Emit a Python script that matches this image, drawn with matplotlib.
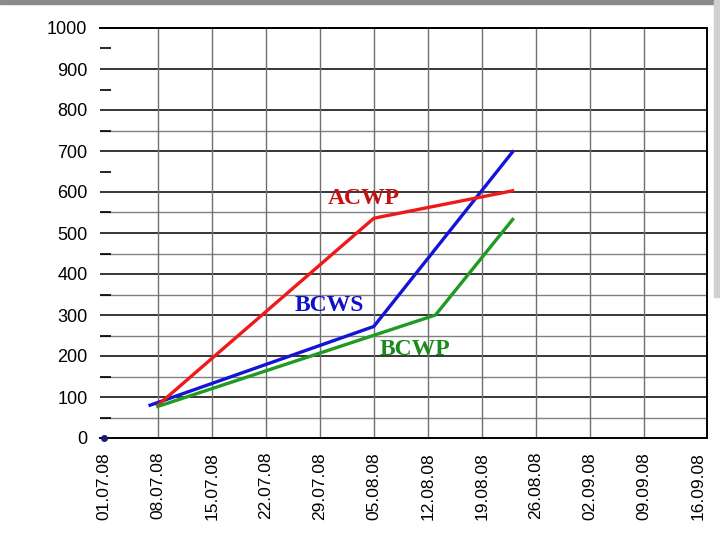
import matplotlib
matplotlib.use("Agg")
import matplotlib.pyplot as plt
from matplotlib.patches import Rectangle
import numpy as np

# Data (x = days since 01.07.08)
tick_labels = ["01.07.08", "08.07.08", "15.07.08", "22.07.08", "29.07.08", "05.08.08",
               "12.08.08", "19.08.08", "26.08.08", "02.09.08", "09.09.08", "16.09.08"]
tick_days = [0, 7, 14, 21, 28, 35, 42, 49, 56, 63, 70, 77]

bcws_days = [6, 35, 53]
bcws_vals = [80, 272, 698]

acwp_days = [7, 35, 53]
acwp_vals = [80, 536, 603]

bcwp_days = [7, 43, 53]
bcwp_vals = [77, 300, 533]

start_day = [0]
start_val = [0]

fig = plt.figure(figsize=(7.2, 5.4), dpi=100)
ax = fig.add_axes([100/720, 1-438/540, 607/720, 410/540])

ax.set_xlim(-0.5, 78.2)
ax.set_ylim(0, 1000)

# grid
for v in range(100, 1001, 100):
    ax.axhline(v, color="black", lw=1.1, zorder=1)
for v in [50, 150, 250, 350, 450, 550, 750]:
    ax.axhline(v, color="#808080", lw=1.0, zorder=1)
for d in tick_days[1:-1]:
    ax.axvline(d, color="#707070", lw=1.0, zorder=1)

ax.plot(bcws_days, bcws_vals, color="#1414d8", lw=2.4, zorder=3)
ax.plot(acwp_days, acwp_vals, color="#ee1a1a", lw=2.4, zorder=3)
ax.plot(bcwp_days, bcwp_vals, color="#1f9a22", lw=2.4, zorder=3)
ax.plot(start_day, start_val, "o", color="#1a1a70", ms=4, zorder=4, clip_on=False)

lbl = dict(fontsize=17, fontweight="bold", family="Liberation Serif",
           ha="center", va="center", zorder=5)
ax.text(33.7, 585, "ACWP", color="#c41010", **lbl)
ax.text(29.2, 322, "BCWS", color="#1010c8", **lbl)
ax.text(40.3, 215, "BCWP", color="#1a8a1a", **lbl)

# ticks
ax.set_yticks(range(0, 1001, 100))
ax.set_yticklabels([str(v) for v in range(0, 1001, 100)], family="Liberation Sans", fontsize=13)
ax.set_yticks(range(50, 1000, 100), minor=True)
ax.tick_params(axis="y", which="major", length=0, pad=9)
ax.tick_params(axis="y", which="minor", direction="in", length=8, width=1.2, color="black")

ax.set_xticks(tick_days)
ax.set_xticklabels(tick_labels, rotation=90, family="Liberation Sans", fontsize=12.5)
ax.tick_params(axis="x", length=0, pad=10)

ax.spines["left"].set_visible(False)
for s in ["right", "top", "bottom"]:
    ax.spines[s].set_color("black")
    ax.spines[s].set_linewidth(1.4)

# scan-like border
fig.patches.append(Rectangle((0, 1-4/540), 1, 4/540, transform=fig.transFigure,
                             color="#8a8a8a", zorder=0))
fig.patches.append(Rectangle((1-6/720, 0.45), 6/720, 0.55, transform=fig.transFigure,
                             color="#d0d0d0", zorder=0))

fig.savefig("out.png", dpi=100)
